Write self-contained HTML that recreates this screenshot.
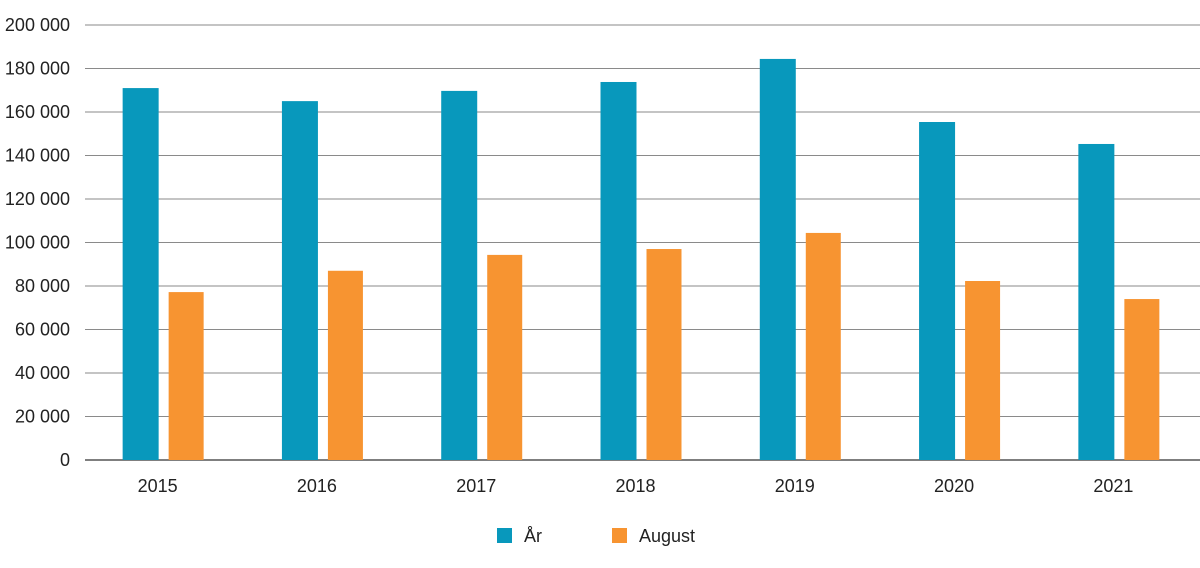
<!DOCTYPE html>
<html><head><meta charset="utf-8"><style>
body{margin:0;background:#fff;width:1200px;height:563px;overflow:hidden}
svg text{font-family:"Liberation Sans",sans-serif;font-size:18px;fill:#222}
</style></head><body>
<svg id="chart" width="1200" height="563" xmlns="http://www.w3.org/2000/svg"></svg>
<script>
const categories=["2015","2016","2017","2018","2019","2020","2021"];
const yearValues=[171000,165000,169700,173800,184400,155400,145300];
const augustValues=[77200,87000,94300,97000,104400,82300,74000];
const yTicks=[0,20000,40000,60000,80000,100000,120000,140000,160000,180000,200000];
const yTickLabels=["0","20 000","40 000","60 000","80 000","100 000","120 000","140 000","160 000","180 000","200 000"];
const svg=document.getElementById('chart');
const NS="http://www.w3.org/2000/svg";
const x0=85,x1=1200,yBase=460,yTop=25,yMax=200000;
const y=v=>yBase-(v/yMax)*(yBase-yTop);
const band=(x1-x0)/categories.length;
const xc=i=>x0+band*(i+0.5)+1;
function mk(tag,attrs){const e=document.createElementNS(NS,tag);for(const k in attrs)e.setAttribute(k,attrs[k]);svg.appendChild(e);return e;}
yTicks.forEach((t,i)=>{
 const l=mk('line',{x1:x0,x2:x1,y1:y(t),y2:y(t),stroke:i===0?'#555':'#8a8a8a','stroke-width':i===0?1.5:1});
 
 
 const tx=mk('text',{x:70,y:y(t)+6,'text-anchor':'end'});
 tx.textContent=yTickLabels[i];
 
 
});
categories.forEach((c,i)=>{
 const b1=mk('rect',{x:xc(i)-43,y:y(yearValues[i]),width:36,height:yBase-y(yearValues[i]),fill:'#0898bc'});
 
 
 const b2=mk('rect',{x:xc(i)+3,y:y(augustValues[i]),width:35,height:yBase-y(augustValues[i]),fill:'#f79431'});
 
 
 const t=mk('text',{x:xc(i)-8,y:492,'text-anchor':'middle'});
 t.textContent=c;
 
 
});
const lg=[["År","#0898bc",497],["August","#f79431",612]];
lg.forEach(([n,col,lx])=>{
 const r=mk('rect',{x:lx,y:528,width:15,height:15,fill:col});
 
 
 const t=mk('text',{x:lx+27,y:542});
 t.textContent=n;
 
 
});
</script>
</body></html>
